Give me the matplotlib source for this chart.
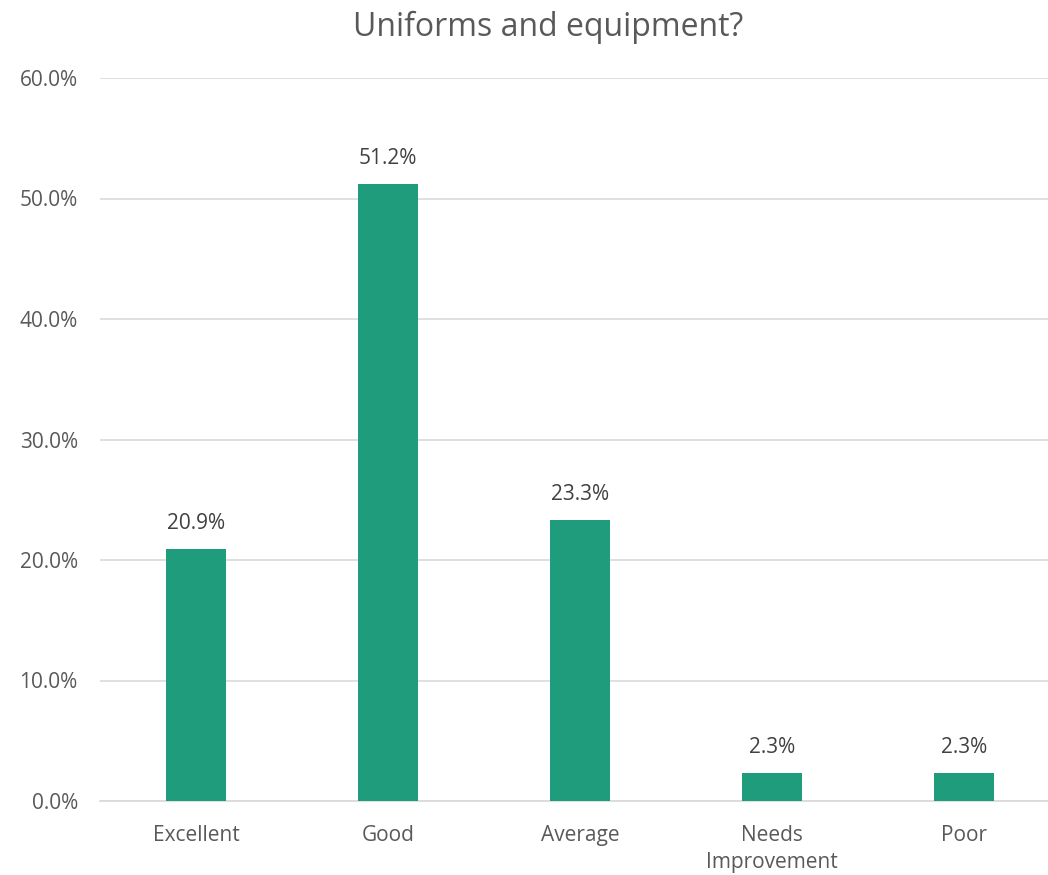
import matplotlib
matplotlib.use("Agg")
import matplotlib.pyplot as plt
from matplotlib.ticker import FuncFormatter, MultipleLocator

categories = ["Excellent", "Good", "Average", "Needs\nImprovement", "Poor"]
values = [20.9, 51.2, 23.3, 2.3, 2.3]
labels = ["20.9%", "51.2%", "23.3%", "2.3%", "2.3%"]

plt.rcParams['font.family'] = ['Open Sans', 'DejaVu Sans']

W, H = 1048, 875
fig = plt.figure(figsize=(W/100, H/100), dpi=100)
ax = fig.add_axes([100/W, 74/H, 960/W, 723/H])

x = list(range(len(categories)))
bars = ax.bar(x, values, width=60/192, color="#1E9C7B", zorder=3)
ax.set_xlim(-0.5, len(categories) - 0.5)
ax.set_ylim(0, 60)
ax.yaxis.set_major_locator(MultipleLocator(10))
ax.yaxis.set_major_formatter(FuncFormatter(lambda v, p: f"{v:.1f}%"))
ax.grid(axis='y', color="#D9D9D9", linewidth=1.2, zorder=0)
for s in ["top", "right", "left"]:
    ax.spines[s].set_visible(False)
ax.spines["bottom"].set_color("#D9D9D9")
ax.spines["bottom"].set_linewidth(1.2)
ax.tick_params(axis='both', length=0, labelsize=15, labelcolor="#595959")
ax.tick_params(axis='y', pad=16)
ax.tick_params(axis='x', pad=17)
ax.set_xticks(x)
ax.set_xticklabels(categories, linespacing=1.4)

for b, lab in zip(bars, labels):
    ax.annotate(lab, (b.get_x() + b.get_width()/2, b.get_height()),
                xytext=(0, 11), textcoords="offset points",
                ha="center", va="bottom", fontsize=15, color="#404040")

fig.text(548/W, 1 - 27/H, "Uniforms and equipment?", ha="center", va="center",
         fontsize=23, color="#595959")

fig.savefig("out.png", dpi=100)
